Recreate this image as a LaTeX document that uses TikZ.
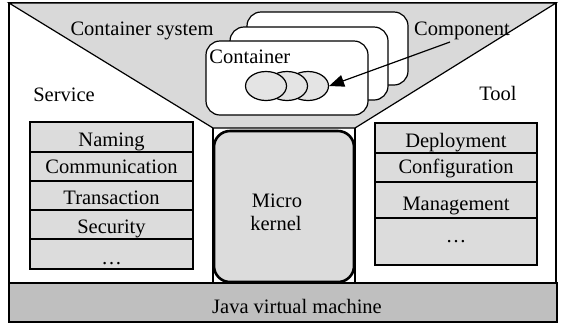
\documentclass[tikz,border=0pt]{standalone}
\usepackage{fontspec}
\setmainfont{Liberation Serif}
\usetikzlibrary{arrows.meta,shapes.geometric}
\definecolor{funnelgray}{HTML}{D9D9D9}
\definecolor{boxgray}{HTML}{DCDCDC}
\definecolor{jvmgray}{HTML}{BFBFBF}
\definecolor{ellgray}{HTML}{E4E4E4}
\begin{document}
\begin{tikzpicture}[x=0.5pt,y=-0.5pt,
  font=\fontsize{10.25}{12}\selectfont,
  txt/.style={inner sep=0pt, anchor=base},
  thinline/.style={draw=black, line width=0.6pt},
  rowbox/.style={thinline, fill=boxgray},
  contbox/.style={thinline, fill=white, rounded corners=7pt},
  ell/.style={ellipse, thinline, fill=ellgray, minimum width=20.5pt, minimum height=14.5pt, inner sep=0pt},
  thickbox/.style={draw=black, line width=1.3pt}]
\useasboundingbox (0,0) rectangle (561,323);
% outer frame
\draw[thinline, fill=white] (9,3) rectangle (556,283);
% funnel
\draw[thinline, fill=funnelgray] (9,3) -- (556,3) -- (355,128) -- (213,128) -- cycle;
\draw[thinline] (213,128) -- (213,283);
\draw[thinline] (355,128) -- (355,283);
% micro kernel
\draw[thickbox, fill=boxgray, rounded corners=8pt] (214,131) rectangle (354,282);
\node[txt] (micro) at (277,207) {Micro};
\node[txt] (kernel) at (276,230) {kernel};
% containers
\draw[contbox] (247,12) rectangle (408,85);
\draw[contbox] (230,27) rectangle (388,100);
\draw[contbox] (206,41) rectangle (368,115);
\node[txt, anchor=base west] (container) at (209,63) {Container};
% components
\node[ell] (e3) at (308,86) {};
\node[ell] (e2) at (287,86) {};
\node[ell] (e1) at (266,86) {};
% labels
\node[txt] (csys) at (142,35) {Container system};
\node[txt] (comp) at (462,35) {Component};
\coordinate (compstart) at (450,42);
\draw[thinline, -{Triangle[length=7.5pt,width=6pt]}] (compstart) -- (e3.east);
\node[txt] (service) at (64,101) {Service};
\node[txt] (tool) at (498,100) {Tool};
% service list
\draw[rowbox] (30,122) rectangle (193,152);
\draw[rowbox] (30,152) rectangle (193,181);
\draw[rowbox] (30,181) rectangle (193,210);
\draw[rowbox] (30,210) rectangle (193,239);
\draw[rowbox] (30,239) rectangle (193,269);
\node[txt] (naming) at (111.5,146.5) {Naming};
\node[txt] (comm) at (111.5,173.5) {Communication};
\node[txt] (trans) at (111.5,204) {Transaction};
\node[txt] (sec) at (111.5,233) {Security};
\node[txt] (sdots) at (111.5,264) {\dots};
% tool list
\draw[rowbox] (375,123) rectangle (537,153);
\draw[rowbox] (375,153) rectangle (537,182);
\draw[rowbox] (375,182) rectangle (537,218);
\draw[rowbox] (375,218) rectangle (537,265);
\node[txt] (deploy) at (456,147) {Deployment};
\node[txt] (config) at (456,173) {Configuration};
\node[txt] (manage) at (456,210) {Management};
\node[txt] (tdots) at (456,242) {\dots};
% JVM
\draw[thickbox, fill=jvmgray] (9,283) rectangle (557,322);
\node[txt] (jvm) at (297,313) {Java virtual machine};
\end{tikzpicture}
\end{document}
